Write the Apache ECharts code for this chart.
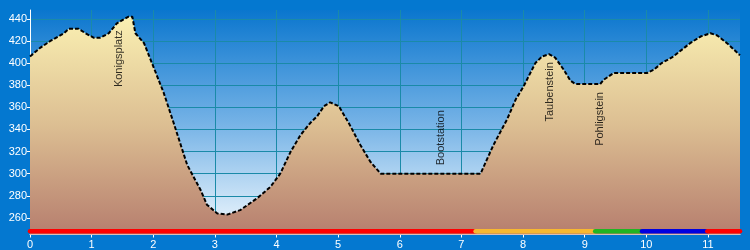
<!DOCTYPE html>
<html><head><meta charset="utf-8">
<script src="https://cdn.jsdelivr.net/npm/echarts@6/dist/echarts.min.js"></script>
<style>html,body{margin:0;padding:0;background:#0478d0}#c{width:750px;height:250px}</style>
</head><body><div id="c"></div>
<script>
// Profile: distance (km) and elevation (m)
const distKm = [0, 0.17, 0.33, 0.55, 0.63, 0.79, 0.9, 1.03, 1.14, 1.28, 1.41, 1.6, 1.66, 1.71, 1.85, 2.0, 2.17, 2.33, 2.55, 2.77, 2.87, 3.04, 3.2, 3.41, 3.69, 3.9, 4.06, 4.23, 4.39, 4.55, 4.66, 4.77, 4.87, 5.01, 5.17, 5.36, 5.52, 5.69, 7.31, 7.52, 7.74, 7.88, 8.01, 8.09, 8.2, 8.31, 8.42, 8.52, 8.66, 8.77, 8.85, 9.25, 9.31, 9.47, 10.01, 10.12, 10.25, 10.44, 10.71, 10.88, 11.04, 11.15, 11.33, 11.52];
const elevM  = [406, 414, 420, 427, 431, 431, 427, 423, 423, 427, 436, 442, 442, 427, 418, 397, 373, 346, 308, 285, 272, 264, 263, 267, 278, 288, 300, 320, 335, 346, 352, 361, 364.5, 361, 346, 326, 311, 300, 300, 326, 349, 367, 379, 388, 400, 406, 408, 405, 394, 384, 381, 381, 385, 391, 391, 394, 400, 406, 418, 424, 427, 425, 417, 407];

// Waypoint labels
const labelNames = ['Konigsplatz', 'Bootstation', 'Taubenstein', 'Pohligstein'];
const labelKm    = [1.45, 6.66, 8.43, 9.24];
const labelElev  = [404, 332.5, 374, 349.5];

// Surface segments along the bottom
const segStart  = [0, 7.23, 9.17, 9.93, 10.99];
const segEnd    = [7.23, 9.17, 9.93, 10.99, 11.52];
const segColors = ['#ff0000', '#f8b830', '#22b422', '#0000e0', '#ff0000'];

// Axis ticks
const xTicks = [0, 1, 2, 3, 4, 5, 6, 7, 8, 9, 10, 11];
const yTicks = [260, 280, 300, 320, 340, 360, 380, 400, 420, 440];

const X_MIN = 0, X_MAX = 11.52, Y_MIN = 245, Y_MAX = 448;
const FONT = 'Liberation Sans, Arial, sans-serif';

const chart = echarts.init(document.getElementById('c'), null, {renderer: 'canvas'});
chart.setOption({
  animation: false,
  backgroundColor: '#0478d0',
  grid: {
    left: 30, right: 10, top: 10, bottom: 15.5,
    show: true, borderWidth: 0, containLabel: false, outerBoundsMode: 'none',
    backgroundColor: {
      type: 'linear', x: 0, y: 0, x2: 0, y2: 1,
      colorStops: [
        {offset: 0, color: '#0a76ce'},
        {offset: 0.5, color: '#74b2e6'},
        {offset: 1, color: '#f2f9fe'}
      ]
    }
  },
  xAxis: {
    type: 'value', min: X_MIN, max: X_MAX,
    axisLine: {show: true, onZero: false, lineStyle: {color: '#ffffff', width: 1}},
    axisTick: {show: true, length: 3, customValues: xTicks, lineStyle: {color: '#ffffff'}},
    axisLabel: {customValues: xTicks, color: '#ffffff', fontSize: 11, fontFamily: FONT, margin: 5},
    splitLine: {show: true, lineStyle: {color: '#1a8aa8', width: 1}}
  },
  yAxis: {
    type: 'value', min: Y_MIN, max: Y_MAX,
    axisLine: {show: true, lineStyle: {color: '#ffffff', width: 1}},
    axisTick: {show: true, length: 3, customValues: yTicks, lineStyle: {color: '#ffffff'}},
    axisLabel: {customValues: yTicks, color: '#ffffff', fontSize: 11, fontFamily: FONT, margin: 3},
    splitLine: {show: true, lineStyle: {color: '#1a8aa8', width: 1}}
  },
  series: [
    {
      type: 'line',
      data: distKm.map((d, i) => [d, elevM[i]]),
      symbol: 'none',
      lineStyle: {color: '#000000', width: 2, type: [4, 2]},
      areaStyle: {
        origin: 'start',
        opacity: 1,
        color: {
          type: 'linear', x: 0, y: 0, x2: 0, y2: 1,
          colorStops: [
            {offset: 0, color: '#faf0b2'},
            {offset: 0.5, color: '#dcbe92'},
            {offset: 1, color: '#b67e6e'}
          ]
        }
      },
      z: 2
    },
    {
      type: 'custom',
      data: segStart.map((s, i) => [s, segEnd[i], i]),
      renderItem: function (params, api) {
        const a = api.coord([api.value(0), Y_MIN]);
        const b = api.coord([api.value(1), Y_MIN]);
        return {
          type: 'line',
          shape: {x1: a[0], y1: a[1] - 3.3, x2: b[0], y2: b[1] - 3.3},
          style: {stroke: segColors[api.value(2)], lineWidth: 4.5, lineCap: 'round'}
        };
      },
      z: 4
    },
    {
      type: 'scatter',
      data: labelKm.map((k, i) => [k, labelElev[i]]),
      symbolSize: 1,
      itemStyle: {color: 'rgba(0,0,0,0)'},
      label: {
        show: true, position: 'inside', rotate: 90,
        formatter: p => labelNames[p.dataIndex],
        color: '#000000', fontSize: 11, fontFamily: FONT
      },
      z: 5
    }
  ]
});
</script>
</body></html>
